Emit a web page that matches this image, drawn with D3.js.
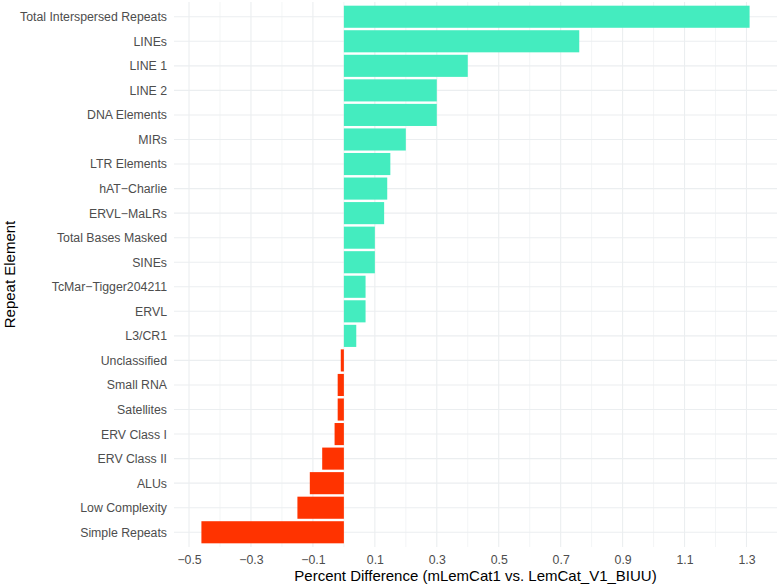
<!DOCTYPE html>
<html>
<head>
<meta charset="utf-8">
<script src="https://cdn.jsdelivr.net/npm/d3@7"></script>
<style>
  body { margin: 0; background: #fff; }
  text { font-family: "Liberation Sans", Arial, Helvetica, sans-serif; }
</style>
</head>
<body>
<svg id="graph"></svg>
<script>
var categories = ["Total Interspersed Repeats", "LINEs", "LINE 1", "LINE 2", "DNA Elements", "MIRs",
    "LTR Elements", "hAT\u2212Charlie", "ERVL\u2212MaLRs", "Total Bases Masked", "SINEs",
    "TcMar\u2212Tigger204211", "ERVL", "L3/CR1", "Unclassified", "Small RNA", "Satellites",
    "ERV Class I", "ERV Class II", "ALUs", "Low Complexity", "Simple Repeats"];
var values = [1.31, 0.76, 0.40, 0.30, 0.30, 0.20,
    0.15, 0.14, 0.13, 0.10, 0.10,
    0.07, 0.07, 0.04, -0.01, -0.02, -0.02,
    -0.03, -0.07, -0.11, -0.15, -0.46];
var xTicks = [-0.5, -0.3, -0.1, 0.1, 0.3, 0.5, 0.7, 0.9, 1.1, 1.3];
var xMinor = [-0.4, -0.2, 0, 0.2, 0.4, 0.6, 0.8, 1.0, 1.2];

var data = categories.map(function(c, i) { return {name: c, value: values[i]}; });

var svg = d3.select("#graph")
    .attr("width", 782)
    .attr("height", 584);

var margin = {top: 2, right: 5, bottom: 37, left: 174},
    width = +svg.attr("width") - margin.left - margin.right,
    height = +svg.attr("height") - margin.top - margin.bottom;

// ggplot-style 5% expansion on the continuous axis
var lo = d3.min(values), hi = d3.max(values), pad = (hi - lo) * 0.05;
var x = d3.scaleLinear().domain([lo - pad, hi + pad]).range([0, width]);

// discrete axis: 0.6 unit expansion each side, bar width 0.9
var n = categories.length;
var step = height / (n - 1 + 1.2);
var y = d3.scalePoint().domain(categories).range([step * 0.6, height - step * 0.6]);
var barH = step * 0.9;

var g = svg.append("g")
    .attr("transform", "translate(" + margin.left + "," + margin.top + ")");

var grid = "#ebeef0";

g.selectAll(".minor")
  .data(xMinor)
  .enter().append("line")
    .attr("x1", function(d) { return x(d); })
    .attr("x2", function(d) { return x(d); })
    .attr("y1", 0).attr("y2", height)
    .attr("stroke", grid).attr("stroke-width", 0.6);

g.selectAll(".major")
  .data(xTicks)
  .enter().append("line")
    .attr("x1", function(d) { return x(d); })
    .attr("x2", function(d) { return x(d); })
    .attr("y1", 0).attr("y2", height)
    .attr("stroke", grid).attr("stroke-width", 1.1);

g.selectAll(".hgrid")
  .data(categories)
  .enter().append("line")
    .attr("x1", 0).attr("x2", width)
    .attr("y1", function(d) { return y(d); })
    .attr("y2", function(d) { return y(d); })
    .attr("stroke", grid).attr("stroke-width", 1.1);

g.selectAll(".bar")
  .data(data)
  .enter().append("rect")
    .attr("class", "bar")
    .attr("x", function(d) { return x(Math.min(0, d.value)); })
    .attr("y", function(d) { return y(d.name) - barH / 2; })
    .attr("width", function(d) { return Math.abs(x(d.value) - x(0)); })
    .attr("height", barH)
    .attr("fill", function(d) { return d.value >= 0 ? "#44ecbf" : "#ff3300"; });

// axes
var xaxis = g.append("g")
    .attr("transform", "translate(0," + height + ")")
    .call(d3.axisBottom(x).tickValues(xTicks).tickSize(0).tickPadding(8)
        .tickFormat(function(d) { return d3.format(".1f")(d).replace("-", "\u2212"); }));
xaxis.select(".domain").remove();
xaxis.selectAll("text").attr("fill", "#4d4d4d").attr("font-size", 12.3);

var yaxis = g.append("g")
    .call(d3.axisLeft(y).tickSize(0).tickPadding(7));
yaxis.select(".domain").remove();
yaxis.selectAll("text").attr("fill", "#4d4d4d").attr("font-size", 12.3);

svg.append("text")
    .attr("x", margin.left + width / 2)
    .attr("y", 581)
    .attr("text-anchor", "middle")
    .attr("font-size", 15)
    .attr("fill", "#000")
    .text("Percent Difference (mLemCat1 vs. LemCat_V1_BIUU)");

svg.append("text")
    .attr("transform", "translate(15," + (margin.top + height / 2) + ") rotate(-90)")
    .attr("text-anchor", "middle")
    .attr("font-size", 15)
    .attr("fill", "#000")
    .text("Repeat Element");
</script>
</body>
</html>
